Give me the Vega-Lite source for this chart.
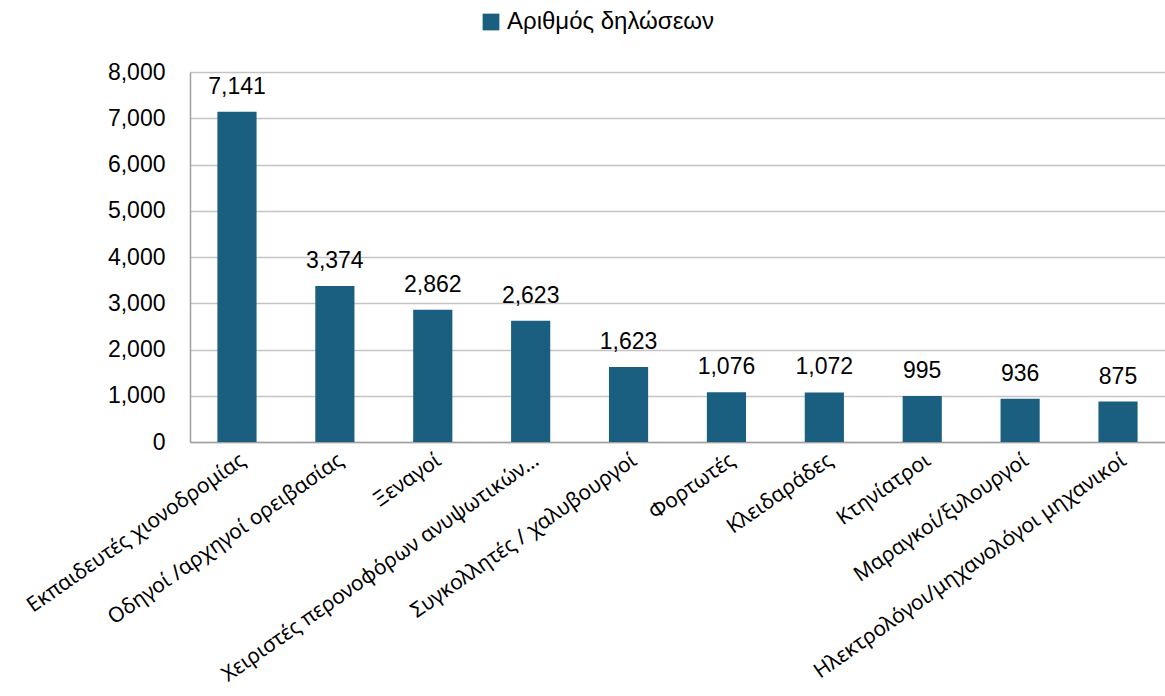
{
  "$schema": "https://vega.github.io/schema/vega-lite/v6.json",
  "autosize": "none",
  "width": 975,
  "height": 370,
  "padding": {"left": 190, "top": 72, "right": 0, "bottom": 254},
  "background": "white",
  "config": {"view": {"stroke": null}},
  "data": {
    "values": [
      {"category": "Εκπαιδευτές χιονοδρομίας", "value": 7141},
      {"category": "Οδηγοί /αρχηγοί ορειβασίας", "value": 3374},
      {"category": "Ξεναγοί", "value": 2862},
      {"category": "Χειριστές περονοφόρων ανυψωτικών…", "value": 2623},
      {"category": "Συγκολλητές / χαλυβουργοί", "value": 1623},
      {"category": "Φορτωτές", "value": 1076},
      {"category": "Κλειδαράδες", "value": 1072},
      {"category": "Κτηνίατροι", "value": 995},
      {"category": "Μαραγκοί/ξυλουργοί", "value": 936},
      {"category": "Ηλεκτρολόγοι/μηχανολόγοι μηχανικοί", "value": 875}
    ]
  },
  "encoding": {
    "x": {
      "field": "category",
      "type": "nominal",
      "sort": null,
      "scale": {"paddingInner": 0.6, "paddingOuter": 0.28},
      "axis": {
        "title": null,
        "labelAngle": -35,
        "labelFont": "Noto Sans",
        "labelFontSize": 21,
        "labelColor": "#000000",
        "labelLimit": 700,
        "labelPadding": 7,
        "ticks": false,
        "domainColor": "#a0a0a0",
        "domainWidth": 1.5,
        "grid": false
      }
    },
    "y": {
      "field": "value",
      "type": "quantitative",
      "scale": {"domain": [0, 8000], "nice": false},
      "axis": {
        "title": null,
        "values": [0, 1000, 2000, 3000, 4000, 5000, 6000, 7000, 8000],
        "format": ",d",
        "labelFont": "Liberation Sans",
        "labelFontSize": 23,
        "labelColor": "#000000",
        "labelPadding": 25,
        "ticks": false,
        "domain": true,
        "domainColor": "#a0a0a0",
        "domainWidth": 1.5,
        "grid": true,
        "gridColor": "#c4c4c4",
        "gridWidth": 1.5
      }
    }
  },
  "layer": [
    {
      "mark": {"type": "bar"},
      "encoding": {
        "color": {
          "datum": "Αριθμός δηλώσεων",
          "scale": {"range": ["#1a5e80"]},
          "legend": {
            "title": null,
            "orient": "none",
            "legendX": 289,
            "legendY": -62,
            "symbolType": "square",
            "symbolSize": 280,
            "symbolStrokeWidth": 0,
            "labelFont": "Liberation Sans",
            "labelFontSize": 24,
            "labelLimit": 400,
            "labelColor": "#000000",
            "labelOffset": 4
          }
        }
      }
    },
    {
      "mark": {
        "type": "text",
        "baseline": "bottom",
        "dy": -13,
        "font": "Liberation Sans",
        "fontSize": 23,
        "color": "#000000"
      },
      "encoding": {
        "text": {"field": "value", "type": "quantitative", "format": ",d"}
      }
    }
  ]
}
